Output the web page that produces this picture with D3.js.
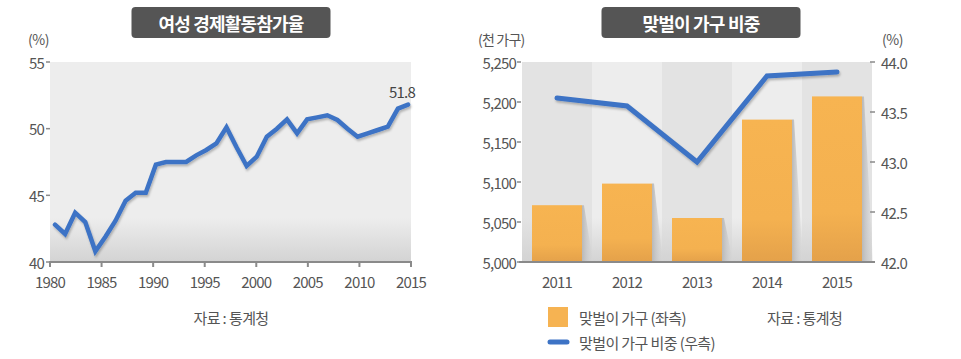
<!DOCTYPE html>
<html><head><meta charset="utf-8">
<script src="https://cdn.jsdelivr.net/npm/d3@7"></script>
<style>
body{margin:0;background:#fff;}
svg{display:block;font-family:"Noto Sans CJK KR","Noto Sans",sans-serif;}
</style></head>
<body>
<svg id="c" width="961" height="359"></svg>
<script>
// ---------- data ----------
const lfpYears = d3.range(1980, 2016);
const lfpValues = [42.8,42.1,43.7,43.0,40.8,41.9,43.1,44.6,45.2,45.2,
                   47.3,47.5,47.5,47.5,48.0,48.4,48.9,50.1,48.6,47.2,
                   47.9,49.4,50.0,50.7,49.65,50.7,50.85,51.0,50.65,50.0,
                   49.4,49.65,49.9,50.15,51.5,51.8];
const lfpYTicks = [40,45,50,55];
const lfpXTicks = [1980,1985,1990,1995,2000,2005,2010,2015];

const dualYears = ["2011","2012","2013","2014","2015"];
const dualHouseholds = [5071,5098,5055,5178,5207];   // 천 가구 (left axis)
const dualShare = [43.64,43.56,43.0,43.86,43.9];     // % (right axis)
const hhTicks = [5000,5050,5100,5150,5200,5250];
const shareTicks = [42.0,42.5,43.0,43.5,44.0];

const titles = ["여성 경제활동참가율","맞벌이 가구 비중"];
const source = "자료 : 통계청";
const legendLabels = ["맞벌이 가구 (좌측)","맞벌이 가구 비중 (우측)"];

// ---------- setup ----------
const svg = d3.select("#c");
const defs = svg.append("defs");
const BLUE = "#3d73c5", TXT = "#555", AX = "#8a8a8a";

const bgGrad = (id, c) => {
  const g = defs.append("linearGradient").attr("id", id).attr("x1",0).attr("y1",0).attr("x2",0).attr("y2",1);
  g.append("stop").attr("offset","0%").attr("stop-color",c);
  g.append("stop").attr("offset","78%").attr("stop-color",c);
  g.append("stop").attr("offset","100%").attr("stop-color","#d3d3d3");
};
bgGrad("bgA","#ededed");
bgGrad("bgB","#e3e3e3");
const barG = defs.append("linearGradient").attr("id","barG").attr("x1",0).attr("y1",0).attr("x2",0).attr("y2",1);
barG.append("stop").attr("offset","0%").attr("stop-color","#f7b451");
barG.append("stop").attr("offset","70%").attr("stop-color","#f4b150");
barG.append("stop").attr("offset","100%").attr("stop-color","#e4a14a");
const shG = defs.append("linearGradient").attr("id","shG").attr("x1",0).attr("y1",0).attr("x2",1).attr("y2",0);
shG.append("stop").attr("offset","0%").attr("stop-color","#b8b8b8");
shG.append("stop").attr("offset","100%").attr("stop-color","#d8d8d8").attr("stop-opacity",0.3);
const f = defs.append("filter").attr("id","ds").attr("x","-10%").attr("y","-20%").attr("width","120%").attr("height","150%");
f.append("feDropShadow").attr("dx",1).attr("dy",2).attr("stdDeviation",1.2).attr("flood-color","#000").attr("flood-opacity",0.25);

function titleBox(cx, text){
  svg.append("rect").attr("x",cx-99.5).attr("y",7).attr("width",199).attr("height",31).attr("rx",4)
     .attr("fill","#555555");
  svg.append("text").attr("x",cx).attr("y",23).attr("text-anchor","middle").attr("dominant-baseline","central")
     .attr("fill","#fff").attr("font-size",18).attr("font-weight",700).attr("letter-spacing",-0.8).text(text);
}
const numStyle = sel => sel.attr("fill",TXT).attr("font-size",15).attr("letter-spacing",-0.8);

// ---------- left chart ----------
{
  const L = 50, R = 411, T = 62, B = 262;
  const xAxisScale = d3.scaleLinear().domain([1980,2015]).range([L,R]);
  const xPt = d3.scalePoint().domain(lfpYears).range([55,408]);
  const y = d3.scaleLinear().domain([40,55]).range([B,T]);

  titleBox(231, titles[0]);
  svg.append("rect").attr("x",L).attr("y",T).attr("width",R-L).attr("height",B-T).attr("fill","url(#bgA)");

  svg.append("text").attr("x",28).attr("y",39).attr("dominant-baseline","central").attr("fill",TXT)
     .attr("font-size",14).attr("letter-spacing",-0.5).text("(%)");

  const gy = svg.append("g");
  gy.selectAll("line").data(lfpYTicks).join("line")
    .attr("x1",L-4).attr("x2",L).attr("y1",d=>y(d)).attr("y2",d=>y(d)).attr("stroke",AX).attr("stroke-width",1.5);
  gy.selectAll("text").data(lfpYTicks).join("text")
    .attr("x",L-6).attr("y",d=>y(d)).attr("text-anchor","end").attr("dominant-baseline","central")
    .call(numStyle).text(d=>d);

  svg.append("line").attr("x1",L-1).attr("x2",R+1).attr("y1",B).attr("y2",B).attr("stroke",AX).attr("stroke-width",2);
  const gx = svg.append("g");
  gx.selectAll("line").data(lfpXTicks).join("line")
    .attr("x1",d=>xAxisScale(d)).attr("x2",d=>xAxisScale(d)).attr("y1",B).attr("y2",B+5).attr("stroke",AX).attr("stroke-width",2);
  gx.selectAll("text").data(lfpXTicks).join("text")
    .attr("x",d=>xAxisScale(d)).attr("y",281).attr("text-anchor","middle").attr("dominant-baseline","central")
    .call(numStyle).text(d=>d);

  const line = d3.line().x((d,i)=>xPt(lfpYears[i])).y(d=>y(d));
  svg.append("path").datum(lfpValues).attr("d",line).attr("fill","none").attr("stroke",BLUE)
     .attr("stroke-width",4.5).attr("stroke-linejoin","miter").attr("stroke-linecap","round").attr("filter","url(#ds)");

  const last = lfpValues.length-1;
  svg.append("text").attr("x",xPt(lfpYears[last])-6).attr("y",y(lfpValues[last])-13)
     .attr("text-anchor","middle").attr("dominant-baseline","central").attr("fill","#444").attr("font-size",15)
     .attr("letter-spacing",-0.8).text(lfpValues[last].toFixed(1));

  svg.append("text").attr("x",231).attr("y",317).attr("text-anchor","middle").attr("dominant-baseline","central")
     .attr("fill",TXT).attr("font-size",15).attr("letter-spacing",-0.6).text(source);
}

// ---------- right chart ----------
{
  const L = 522, R = 872, T = 62, B = 262;
  const xb = d3.scaleBand().domain(dualYears).range([L,R]);
  const xbar = d3.scaleBand().domain(dualYears).range([L,R]).paddingInner(2/7).paddingOuter(1/7);
  const yL = d3.scaleLinear().domain([5000,5250]).range([B,T]);
  const yR = d3.scaleLinear().domain([42,44]).range([B,T]);

  titleBox(701, titles[1]);
  svg.append("g").selectAll("rect").data(dualYears).join("rect")
    .attr("x",d=>xb(d)).attr("y",T).attr("width",xb.bandwidth()).attr("height",B-T)
    .attr("fill",(d,i)=> i%2===0 ? "url(#bgB)" : "url(#bgA)");

  svg.append("text").attr("x",478).attr("y",39).attr("dominant-baseline","central").attr("fill",TXT)
     .attr("font-size",14).attr("letter-spacing",-0.8).text("(천 가구)");
  svg.append("text").attr("x",882).attr("y",39).attr("dominant-baseline","central").attr("fill",TXT)
     .attr("font-size",14).attr("letter-spacing",-0.5).text("(%)");

  const fmt = d3.format(",");
  const gl = svg.append("g");
  gl.selectAll("line").data(hhTicks).join("line")
    .attr("x1",L-5).attr("x2",L-1).attr("y1",d=>yL(d)).attr("y2",d=>yL(d)).attr("stroke",AX).attr("stroke-width",1.5);
  gl.selectAll("text").data(hhTicks).join("text")
    .attr("x",L-6).attr("y",d=>yL(d)).attr("text-anchor","end").attr("dominant-baseline","central")
    .call(numStyle).text(d=>fmt(d));

  const gr = svg.append("g");
  gr.selectAll("line").data(shareTicks).join("line")
    .attr("x1",R-2).attr("x2",R+3).attr("y1",d=>yR(d)).attr("y2",d=>yR(d)).attr("stroke",AX).attr("stroke-width",1.5);
  gr.selectAll("text").data(shareTicks).join("text")
    .attr("x",R+9).attr("y",d=>yR(d)).attr("text-anchor","start").attr("dominant-baseline","central")
    .call(numStyle).text(d=>d.toFixed(1));

  // bar shadows
  svg.append("g").selectAll("path").data(dualHouseholds).join("path")
    .attr("d",(d,i)=>{const x1=xbar(dualYears[i])+xbar.bandwidth(); const yt=yL(d);
       return `M${x1},${yt}L${x1+2},${yt}L${x1+11},${B}L${x1},${B}Z`;})
    .attr("fill","url(#shG)");
  svg.append("g").selectAll("rect").data(dualHouseholds).join("rect")
    .attr("x",(d,i)=>xbar(dualYears[i])).attr("y",d=>yL(d)).attr("width",xbar.bandwidth())
    .attr("height",d=>B-yL(d)).attr("fill","url(#barG)");

  svg.append("line").attr("x1",L-3).attr("x2",R+3).attr("y1",B).attr("y2",B).attr("stroke",AX).attr("stroke-width",2);

  svg.append("g").selectAll("text").data(dualYears).join("text")
    .attr("x",d=>xb(d)+xb.bandwidth()/2).attr("y",281).attr("text-anchor","middle").attr("dominant-baseline","central")
    .call(numStyle).text(d=>d);

  const line = d3.line().x((d,i)=>xb(dualYears[i])+xb.bandwidth()/2).y(d=>yR(d));
  svg.append("path").datum(dualShare).attr("d",line).attr("fill","none").attr("stroke",BLUE)
     .attr("stroke-width",5).attr("stroke-linejoin","miter").attr("stroke-linecap","round").attr("filter","url(#ds)");

  // legend
  svg.append("rect").attr("x",548).attr("y",307).attr("width",20).attr("height",20).attr("fill","#f6b352");
  svg.append("line").attr("x1",550).attr("x2",567).attr("y1",342).attr("y2",342).attr("stroke",BLUE)
     .attr("stroke-width",5).attr("stroke-linecap","round");
  svg.append("g").selectAll("text").data(legendLabels).join("text")
    .attr("x",579).attr("y",(d,i)=>317+i*25).attr("dominant-baseline","central")
    .attr("fill",TXT).attr("font-size",15).attr("letter-spacing",-0.6).text(d=>d);
  svg.append("text").attr("x",767).attr("y",317).attr("dominant-baseline","central")
     .attr("fill",TXT).attr("font-size",15).attr("letter-spacing",-0.6).text(source);
}
</script>
</body></html>
